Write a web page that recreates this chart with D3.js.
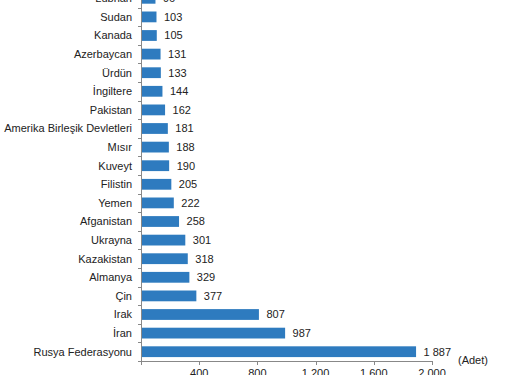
<!DOCTYPE html>
<html><head><meta charset="utf-8">
<script src="https://cdn.jsdelivr.net/npm/d3@7"></script>
<style>
html,body{margin:0;padding:0;background:#fff;overflow:hidden;}
svg{display:block;}
text{font-family:"Liberation Sans",Arial,sans-serif;}
</style></head><body>
<svg id="c" width="507" height="375"></svg>
<script>
const countries = ["Lübnan","Sudan","Kanada","Azerbaycan","Ürdün","İngiltere","Pakistan","Amerika Birleşik Devletleri","Mısır","Kuveyt","Filistin","Yemen","Afganistan","Ukrayna","Kazakistan","Almanya","Çin","Irak","İran","Rusya Federasyonu"];
const values = [96,103,105,131,133,144,162,181,188,190,205,222,258,301,318,329,377,807,987,1887];
const valueLabels = ["96","103","105","131","133","144","162","181","188","190","205","222","258","301","318","329","377","807","987","1 887"];
const xTicks = [0,400,800,1200,1600,2000];
const xTickLabels = ["","400","800","1 200","1 600","2 000"];
const unitLabel = "(Adet)";

const svg = d3.select("#c");
const fs = "11px";
const x0 = 141, x1 = 432, yBottom = 361, yTop = 361 - countries.length*18.6;
const x = d3.scaleLinear().domain([0,2000]).range([x0,x1]);
const y = d3.scaleBand().domain(countries).range([yTop,yBottom]).paddingInner(0.42).paddingOuter(0.21);
const band = d3.scaleBand().domain(countries).range([yTop,yBottom]);

// bars
svg.selectAll("rect.bar").data(countries).enter().append("rect")
  .attr("x", x(0)+0.5).attr("y", d=>y(d))
  .attr("width", (d,i)=>x(values[i])-x(0)).attr("height", y.bandwidth())
  .attr("fill","#2e7bbf");

// value labels
svg.selectAll("text.val").data(countries).enter().append("text")
  .attr("x",(d,i)=>x(values[i])+8).attr("y",d=>band(d)+band.bandwidth()/2)
  .attr("dy","0.35em").attr("font-size",fs).attr("fill","#222")
  .text((d,i)=>valueLabels[i]);

// category labels
svg.selectAll("text.cat").data(countries).enter().append("text")
  .attr("x",132).attr("y",d=>band(d)+band.bandwidth()/2)
  .attr("dy","0.35em").attr("text-anchor","end").attr("font-size",fs).attr("fill","#222")
  .text(d=>d);

// y axis line and ticks at band boundaries
const axisColor = "#888";
svg.append("line").attr("x1",x0+0.5).attr("x2",x0+0.5).attr("y1",yTop).attr("y2",yBottom).attr("stroke",axisColor);
const bounds = countries.map(d=>band(d)).concat([yBottom]);
svg.selectAll("line.yt").data(bounds).enter().append("line")
  .attr("x1",x0-3).attr("x2",x0+0.5).attr("y1",d=>Math.round(d)+0.5).attr("y2",d=>Math.round(d)+0.5).attr("stroke",axisColor);

// x axis
svg.append("line").attr("x1",x0).attr("x2",x(2000)).attr("y1",yBottom+0.5).attr("y2",yBottom+0.5).attr("stroke",axisColor);
svg.selectAll("line.xt").data(xTicks).enter().append("line")
  .attr("x1",d=>Math.round(x(d))+0.5).attr("x2",d=>Math.round(x(d))+0.5)
  .attr("y1",yBottom).attr("y2",yBottom+4).attr("stroke",axisColor);
svg.selectAll("text.xl").data(xTicks).enter().append("text")
  .attr("x",d=>x(d)).attr("y",yBottom+16).attr("text-anchor","middle")
  .attr("font-size",fs).attr("fill","#222").text((d,i)=>xTickLabels[i]);

svg.append("text").attr("x",458).attr("y",360).attr("dy","0.35em")
  .attr("font-size",fs).attr("fill","#222").text(unitLabel);
</script>
</body></html>
